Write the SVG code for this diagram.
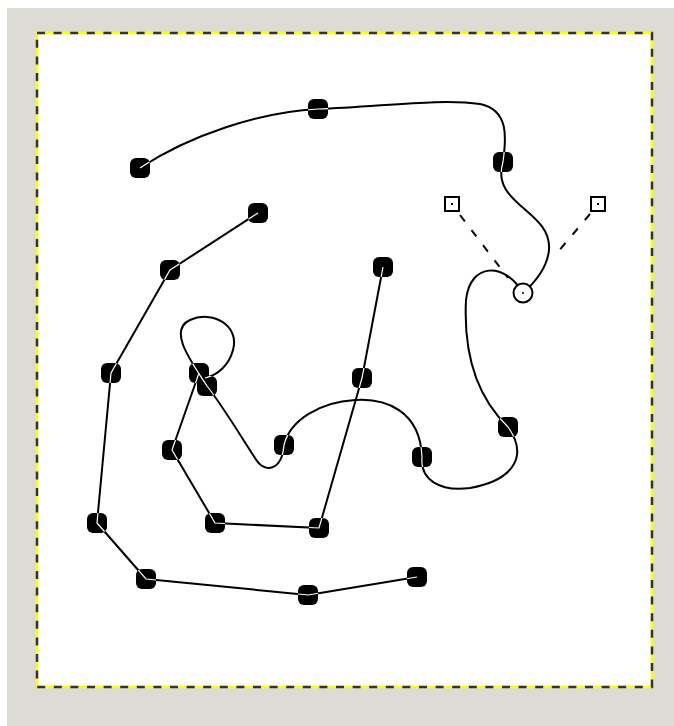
<svg xmlns="http://www.w3.org/2000/svg" width="674" height="726" viewBox="0 0 674 726">
<style>
.crv{fill:none;stroke:#000;stroke-width:2;stroke-linejoin:round;stroke-linecap:round}
.inl{fill:none;stroke:#fff;stroke-width:1.2}
.nd{fill:#000}
.hd{fill:#fff;stroke:#000;stroke-width:2}
.dl{fill:none;stroke:#000;stroke-width:2;stroke-dasharray:8,11}
</style>
<defs>
<clipPath id="nodesClip">
<rect x="130" y="158" width="20" height="20" rx="6"/>
<rect x="308" y="99" width="20" height="20" rx="6"/>
<rect x="493" y="152" width="20" height="20" rx="6"/>
<rect x="498" y="417" width="20" height="20" rx="6"/>
<rect x="412" y="447" width="20" height="20" rx="6"/>
<rect x="274" y="435" width="20" height="20" rx="6"/>
<rect x="189" y="363" width="20" height="20" rx="6"/>
<rect x="197" y="376" width="20" height="20" rx="6"/>
<rect x="248" y="203" width="20" height="20" rx="6"/>
<rect x="160" y="260" width="20" height="20" rx="6"/>
<rect x="101" y="363" width="20" height="20" rx="6"/>
<rect x="87" y="513" width="20" height="20" rx="6"/>
<rect x="136" y="569" width="20" height="20" rx="6"/>
<rect x="298" y="585" width="20" height="20" rx="6"/>
<rect x="407" y="567" width="20" height="20" rx="6"/>
<rect x="373" y="257" width="20" height="20" rx="6"/>
<rect x="352" y="368" width="20" height="20" rx="6"/>
<rect x="309" y="518" width="20" height="20" rx="6"/>
<rect x="205" y="513" width="20" height="20" rx="6"/>
<rect x="162" y="440" width="20" height="20" rx="6"/>
</clipPath>
<g id="curveShapes">
<path d="M140,168 C190,135 260,112 318,109 C380,107 440,98 480,104 C510,110 506,140 503,162 C490,205 552,210 549,250 C547,270 532,285 523,293"/>
<path d="M523,293 C505,262 470,262 466,300 C463,360 480,400 508,427 C528,455 515,480 470,488 C440,492 420,480 422,457 C420,410 385,398 355,400 C320,402 290,420 284,445 C282,470 265,475 255,458 C240,435 222,405 207,386 C190,360 168,330 190,320 C212,310 240,325 233,350 C229,365 218,375 205,378"/>
<path d="M258,213 L170,270 L111,373 L97,523 L146,579 L308,595 L417,577"/>
<path d="M383,267 L362,378 L319,528 L215,523 L172,450 L199,373"/>
</g>
</defs>
<rect x="0" y="0" width="674" height="726" fill="#ffffff"/>
<rect x="7" y="8" width="667" height="718" fill="#dcdbd6"/>
<rect id="canvas" x="37" y="33" width="615" height="654" fill="#ffffff"/>
<rect x="37" y="33" width="615" height="654" fill="none" stroke="#ffff00" stroke-width="2.5"/>
<rect x="37" y="33" width="615" height="654" fill="none" stroke="#333333" stroke-width="2.5" stroke-dasharray="8,8.6"/>
<g id="connectors">
<use href="#curveShapes" class="crv"/>
<line class="dl" x1="460" y1="215" x2="508" y2="278"/>
<line class="dl" x1="590" y1="214" x2="557" y2="253"/>
</g>
<g id="nodes">
<g id="n1"><rect class="nd" x="130" y="158" width="20" height="20" rx="6"/></g>
<g id="n2"><rect class="nd" x="308" y="99" width="20" height="20" rx="6"/></g>
<g id="n3"><rect class="nd" x="493" y="152" width="20" height="20" rx="6"/></g>
<g id="n4"><rect class="nd" x="498" y="417" width="20" height="20" rx="6"/></g>
<g id="n5"><rect class="nd" x="412" y="447" width="20" height="20" rx="6"/></g>
<g id="n6"><rect class="nd" x="274" y="435" width="20" height="20" rx="6"/></g>
<g id="n7"><rect class="nd" x="189" y="363" width="20" height="20" rx="6"/></g>
<g id="n8"><rect class="nd" x="197" y="376" width="20" height="20" rx="6"/></g>
<g id="n9"><rect class="nd" x="248" y="203" width="20" height="20" rx="6"/></g>
<g id="n10"><rect class="nd" x="160" y="260" width="20" height="20" rx="6"/></g>
<g id="n11"><rect class="nd" x="101" y="363" width="20" height="20" rx="6"/></g>
<g id="n12"><rect class="nd" x="87" y="513" width="20" height="20" rx="6"/></g>
<g id="n13"><rect class="nd" x="136" y="569" width="20" height="20" rx="6"/></g>
<g id="n14"><rect class="nd" x="298" y="585" width="20" height="20" rx="6"/></g>
<g id="n15"><rect class="nd" x="407" y="567" width="20" height="20" rx="6"/></g>
<g id="n16"><rect class="nd" x="373" y="257" width="20" height="20" rx="6"/></g>
<g id="n17"><rect class="nd" x="352" y="368" width="20" height="20" rx="6"/></g>
<g id="n18"><rect class="nd" x="309" y="518" width="20" height="20" rx="6"/></g>
<g id="n19"><rect class="nd" x="205" y="513" width="20" height="20" rx="6"/></g>
<g id="n20"><rect class="nd" x="162" y="440" width="20" height="20" rx="6"/></g>
</g>
<g id="inlines" clip-path="url(#nodesClip)">
<use href="#curveShapes" class="inl"/>
</g>
<g id="selected">
<circle class="hd" cx="523" cy="293" r="9.5"/>
<circle cx="523" cy="293" r="1" fill="#000"/>
</g>
<g id="handleL">
<rect class="hd" x="445" y="197" width="14" height="14"/>
<rect x="451" y="203" width="2" height="2" fill="#000"/>
</g>
<g id="handleR">
<rect class="hd" x="591" y="197" width="14" height="14"/>
<rect x="597" y="203" width="2" height="2" fill="#000"/>
</g>
</svg>
